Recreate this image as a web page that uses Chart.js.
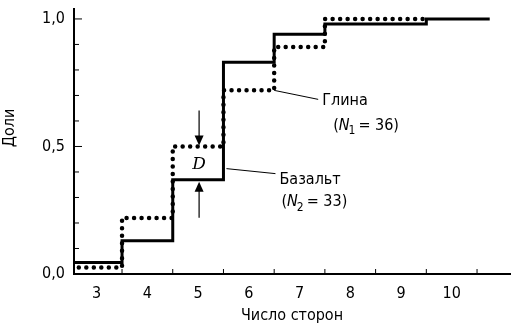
<!DOCTYPE html>
<html>
<head>
<meta charset="utf-8">
<script src="https://cdn.jsdelivr.net/npm/chart.js@4.4.1/dist/chart.umd.min.js"></script>
<style>
  html, body { margin: 0; padding: 0; background: #fff; }
</style>
</head>
<body>
<canvas id="chart" width="515" height="329"></canvas>
<script>
// число сторон (категории) и накопленные доли
const sides = [3, 4, 5, 6, 7, 8, 9, 10];
const basalt = [0.045, 0.13, 0.37, 0.83, 0.94, 0.98, 0.98, 1.0];
const clay = [0.025, 0.22, 0.5, 0.72, 0.89, 1.0, 1.0];
const basaltEnd = 10.75;
const xTickLabels = ["3", "4", "5", "6", "7", "8", "9", "10"];
const yTickValues = [0, 0.5, 1.0];
const yTickLabels = ["0,0", "0,5", "1,0"];

const FONT = "'DejaVu Sans Condensed', 'Liberation Sans Narrow', 'DejaVu Sans', sans-serif";

// ступенчатая функция: каждая ступень начинается на полуцелом
function stepPoints(values, end) {
  const pts = values.map((v, i) => ({ x: sides[i] - 0.5, y: v }));
  pts.push({ x: end, y: values[values.length - 1] });
  return pts;
}

function line(ctx, x1, y1, x2, y2) {
  ctx.beginPath();
  ctx.moveTo(x1, y1);
  ctx.lineTo(x2, y2);
  ctx.stroke();
}

function arrow(ctx, x, yFrom, yTo) {
  const dir = yTo > yFrom ? 1 : -1;
  line(ctx, x, yFrom, x, yTo - dir * 8);
  ctx.beginPath();
  ctx.moveTo(x, yTo);
  ctx.lineTo(x - 4.5, yTo - dir * 10);
  ctx.lineTo(x + 4.5, yTo - dir * 10);
  ctx.closePath();
  ctx.fill();
}

// "(N₁ = 36)"
function drawN(ctx, x, y, sub, rest) {
  ctx.textBaseline = "middle";
  ctx.textAlign = "left";
  ctx.font = "16px " + FONT;
  ctx.fillText("(", x, y);
  x += ctx.measureText("(").width;
  ctx.font = "italic 16px " + FONT;
  ctx.fillText("N", x, y);
  x += ctx.measureText("N").width - 1;
  ctx.font = "12px " + FONT;
  ctx.fillText(sub, x, y + 6);
  x += ctx.measureText(sub).width + 3;
  ctx.font = "16px " + FONT;
  ctx.fillText(rest, x, y);
}

const annotate = {
  id: "annotate",
  afterDatasetsDraw(chart) {
    const { ctx, scales: { x, y } } = chart;
    ctx.save();
    ctx.strokeStyle = "#000";
    ctx.fillStyle = "#000";

    // засечки внутрь
    ctx.lineWidth = 1;
    for (let i = 1; i <= 10; i++) {
      const py = y.getPixelForValue(i / 10);
      line(ctx, x.left, py, x.left + (i % 5 === 0 ? 8 : 5), py);
    }
    sides.forEach(s => {
      const px = x.getPixelForValue(s + 0.5);
      line(ctx, px, y.bottom, px, y.bottom - 5);
    });

    // D — максимальная разность
    const k = sides.indexOf(5);
    const ax = x.getPixelForValue(5) + 1;
    const topY = y.getPixelForValue(clay[k]);
    const botY = y.getPixelForValue(basalt[k]);
    ctx.lineWidth = 1.2;
    arrow(ctx, ax, topY - 36, topY - 1);
    arrow(ctx, ax, botY + 38, botY + 2);
    ctx.font = "italic 17px 'DejaVu Serif', serif";
    ctx.textAlign = "center";
    ctx.textBaseline = "middle";
    ctx.fillText("D", ax, (topY + botY) / 2 + 2);

    // подписи кривых
    ctx.lineWidth = 1;
    const g = { x: x.getPixelForValue(6.5), y: y.getPixelForValue(clay[3]) };
    line(ctx, g.x, g.y, g.x + 44, g.y + 9);
    ctx.font = "16px " + FONT;
    ctx.textAlign = "left";
    ctx.fillText("Глина", g.x + 48, g.y + 10);
    drawN(ctx, g.x + 59, g.y + 35, "1", "= 36)");

    const b = { x: x.getPixelForValue(5.5) + 3, y: y.getPixelForValue(basalt[2]) - 11 };
    line(ctx, b.x, b.y, b.x + 49, b.y + 5);
    ctx.font = "16px " + FONT;
    ctx.fillText("Базальт", b.x + 53, b.y + 11);
    drawN(ctx, b.x + 55, b.y + 33, "2", "= 33)");

    // подпись оси Y
    ctx.save();
    ctx.translate(10, 128);
    ctx.rotate(-Math.PI / 2);
    ctx.font = "16px " + FONT;
    ctx.textAlign = "center";
    ctx.fillText("Доли", 0, 0);
    ctx.restore();

    ctx.restore();
  }
};

new Chart(document.getElementById("chart"), {
  type: "line",
  data: {
    datasets: [
      {
        label: "Базальт",
        data: stepPoints(basalt, basaltEnd),
        stepped: "before",
        borderColor: "#000",
        borderWidth: 3,
        pointRadius: 0,
        fill: false,
      },
      {
        label: "Глина",
        data: stepPoints(clay, sides[clay.length - 1] + 0.5),
        stepped: "before",
        borderColor: "#000",
        borderWidth: 4.5,
        borderDash: [0, 7.5],
        borderCapStyle: "round",
        pointRadius: 0,
        fill: false,
      },
    ],
  },
  options: {
    responsive: false,
    animation: false,
    devicePixelRatio: 1,
    layout: { padding: { top: 9, right: 5, left: 0, bottom: 0 } },
    plugins: { legend: { display: false }, tooltip: { enabled: false } },
    scales: {
      x: {
        type: "linear",
        min: 2.553,
        max: 11.15,
        afterFit: s => { s.height = 55; s.paddingLeft = 0; s.paddingRight = 0; },
        afterBuildTicks: s => { s.ticks = sides.map(v => ({ value: v })); },
        grid: { display: false, drawTicks: false },
        border: { display: true, color: "#000", width: 2 },
        ticks: {
          color: "#000",
          font: { family: FONT, size: 16 },
          padding: 10,
          maxRotation: 0,
          autoSkip: false,
          callback: v => xTickLabels[sides.indexOf(v)],
        },
        title: {
          display: true,
          text: "Число сторон",
          color: "#000",
          font: { family: FONT, size: 16 },
          padding: { top: 0, bottom: 4 },
        },
      },
      y: {
        min: 0,
        max: 1.039,
        afterFit: s => { s.width = 74; s.paddingTop = 0; s.paddingBottom = 0; },
        afterBuildTicks: s => { s.ticks = yTickValues.map(v => ({ value: v })); },
        grid: { display: false, drawTicks: false },
        border: { display: true, color: "#000", width: 2 },
        ticks: {
          color: "#000",
          font: { family: FONT, size: 16 },
          padding: 9,
          callback: v => yTickLabels[yTickValues.indexOf(v)],
        },
      },
    },
  },
  plugins: [annotate],
});
</script>
</body>
</html>
